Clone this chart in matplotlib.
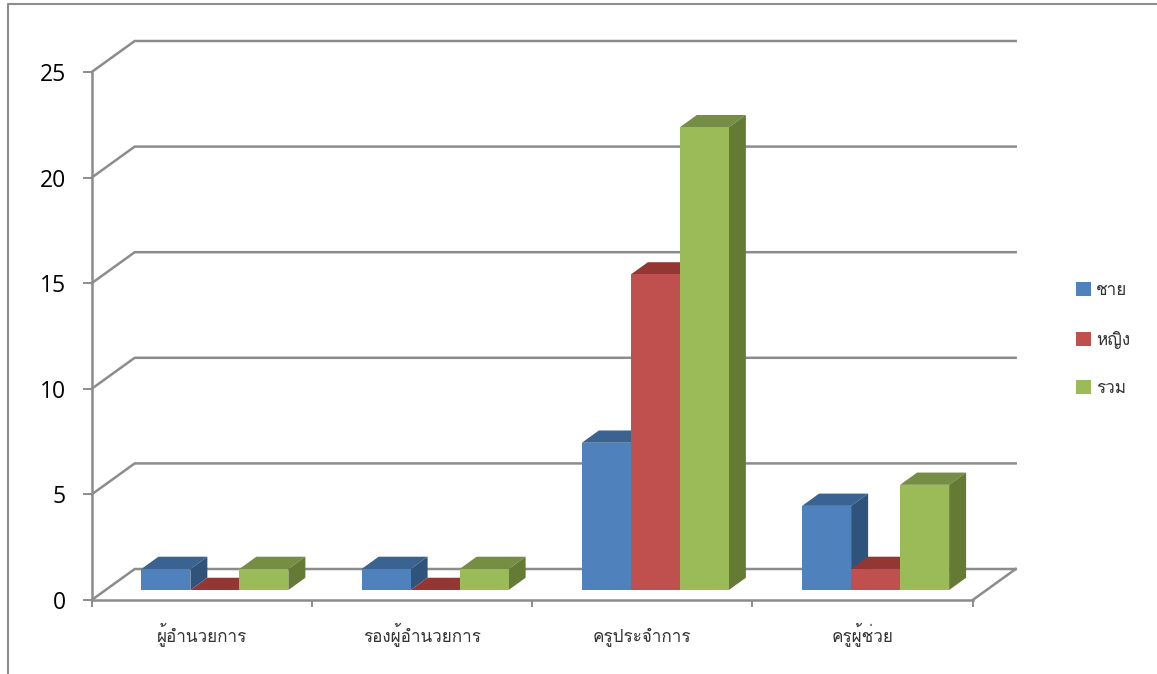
import matplotlib
matplotlib.use('Agg')
import matplotlib.pyplot as plt
from matplotlib.lines import Line2D
from matplotlib.patches import Patch

categories = ["ผู้อำนวยการ", "รองผู้อำนวยการ", "ครูประจำการ", "ครูผู้ช่วย"]
male = [1, 1, 7, 4]
female = [0, 0, 15, 1]
total = [1, 1, 22, 5]
series_names = ["ชาย", "หญิง", "รวม"]
y_ticks = [0, 5, 10, 15, 20, 25]

THAI = 'Loma'
NUM = 'Open Sans'
GRAY = '#8C8C8C'
front = ['#4F81BD', '#C0504D', '#9BBB59']
top = ['#3A6391', '#943634', '#768E43']
side = ['#30537C', '#7F2E2C', '#647A35']

W, H = 1157, 674
fig = plt.figure(figsize=(W / 100, H / 100), dpi=100)
fig.patch.set_facecolor('white')
ax = fig.add_axes([91.7 / W, (H - 600) / H, 881 / W, 528 / H])
ax.set_xlim(0, 4)
ax.set_ylim(0, 25)
ax.patch.set_visible(False)

# depth of the 3-D box expressed in data units
px_x = 4 / 881
px_y = 25 / 528
DX, DY = 43 * px_x, 31 * px_y
LW = 1.8

# back wall gridlines and their diagonals on the side wall
for v in y_ticks:
    ax.plot([0, DX, 4 + DX], [v, v + DY, v + DY], color=GRAY, lw=LW,
            clip_on=False, zorder=1, solid_joinstyle='miter')
ax.plot([4, 4 + DX], [0, DY], color=GRAY, lw=LW, clip_on=False, zorder=1)

# bars (perspective shortens the bars very slightly against the wall scale)
bar_w = 49 * px_x
start = 0.1625
d0, d1 = 10 / 31, 10 / 31 + 17 / 43
persp = 0.996
for i in range(len(categories)):
    for s, values in enumerate([male, female, total]):
        v = values[i]
        x0 = i + start + s * bar_w + d0 * DX
        x1 = x0 + bar_w
        y0 = d0 * DY
        y1 = y0 + v * persp
        ox, oy = (d1 - d0) * DX, (d1 - d0) * DY
        z = 3 + i + s * 0.1
        ax.fill([x0, x1, x1 + ox, x0 + ox], [y1, y1, y1 + oy, y1 + oy],
                color=top[s], lw=0, clip_on=False, zorder=z)
        ax.fill([x1, x1 + ox, x1 + ox, x1], [y0, y0 + oy, y1 + oy, y1],
                color=side[s], lw=0, clip_on=False, zorder=z)
        ax.fill([x0, x1, x1, x0], [y0, y0, y1, y1],
                color=front[s], lw=0, clip_on=False, zorder=z + 0.01)

# axes
for name in ('top', 'right'):
    ax.spines[name].set_visible(False)
for name in ('left', 'bottom'):
    ax.spines[name].set_color(GRAY)
    ax.spines[name].set_linewidth(LW)
ax.set_yticks(y_ticks)
ax.set_yticklabels([str(v) for v in y_ticks], fontfamily=NUM, fontsize=16.5, color='black')
ax.set_xticks(range(5))
ax.set_xticklabels([])
ax.set_xticks([i + 0.5 for i in range(4)], minor=True)
labels = ax.set_xticklabels(categories, minor=True, fontfamily=THAI, fontsize=12.3, color='#333333')
for lab in labels:
    lab.set_verticalalignment('baseline')
ax.tick_params(axis='y', length=6.5, width=1.4, color=GRAY, pad=12)
ax.tick_params(axis='x', which='major', length=5, width=1.4, color=GRAY)
ax.tick_params(axis='x', which='minor', length=0, pad=29.7)

# legend
handles = [Patch(facecolor=c, edgecolor='none') for c in front]
ax.legend(handles, series_names, loc='center left',
          bbox_to_anchor=(1069 / W, (H - 339.5) / H), bbox_transform=fig.transFigure,
          frameon=False, prop={'family': THAI, 'size': 12.3}, labelcolor='#333333',
          handlelength=0.9, handleheight=0.9, handletextpad=0.3, labelspacing=1.85,
          borderpad=0, borderaxespad=0.4)

# outer chart frame (only top and left edges are inside the crop)
fig.add_artist(Line2D([7.5 / W, 7.5 / W, 1], [0, (H - 3.5) / H, (H - 3.5) / H],
                      transform=fig.transFigure, color=GRAY, lw=1.5))

fig.savefig('out.png', dpi=100)
